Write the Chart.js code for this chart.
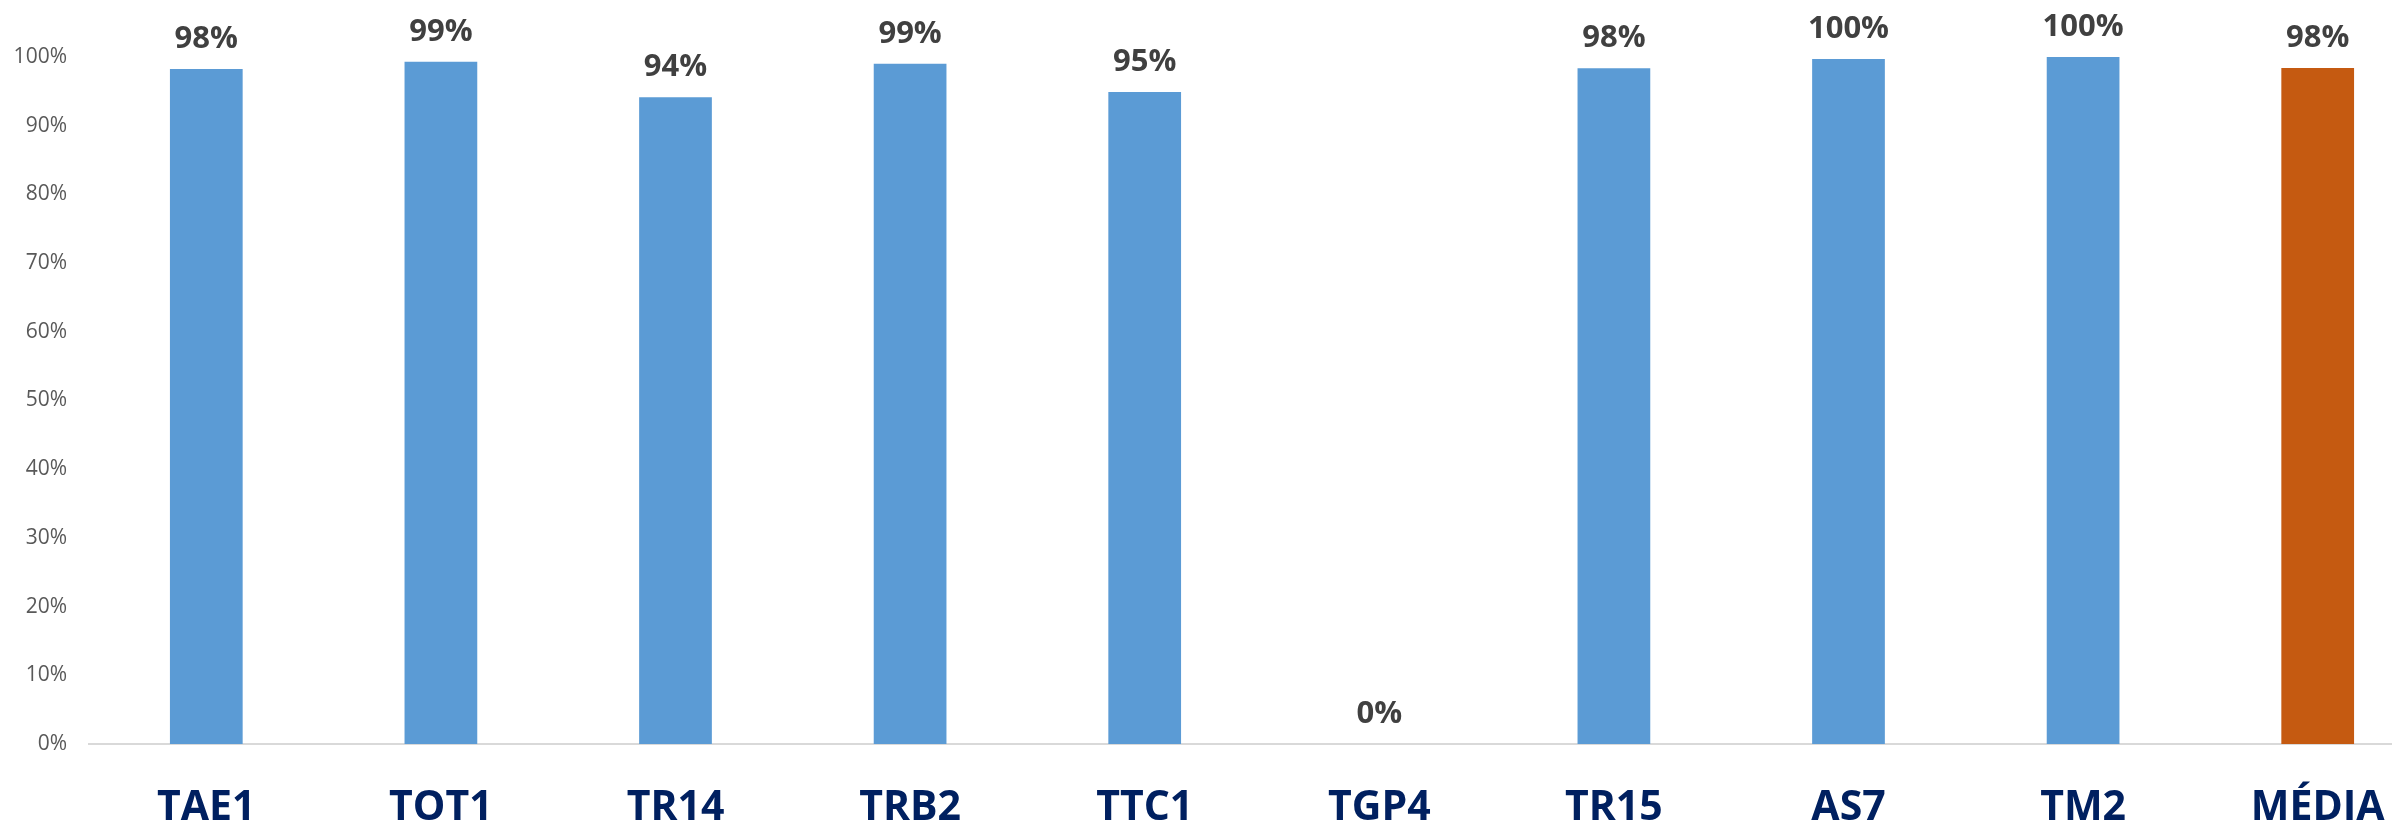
<!DOCTYPE html>
<html>
<head>
<meta charset="utf-8">
<script src="https://cdn.jsdelivr.net/npm/chart.js@4.4.1/dist/chart.umd.min.js"></script>
<style>
    html, body { margin: 0; padding: 0; background: #fff; overflow: hidden; }
    .wrap { width: 2435px; height: 826px; position: relative; }
</style>
</head>
<body>
<div class="wrap"><canvas id="chart"></canvas></div>
<script>
// data
const categories = ['TAE1', 'TOT1', 'TR14', 'TRB2', 'TTC1', 'TGP4', 'TR15', 'AS7', 'TM2', 'MÉDIA'];
const values = [0.9825, 0.993, 0.9415, 0.990, 0.949, 0, 0.9836, 0.997, 1.0, 0.984];
const yTicks = [0, 0.1, 0.2, 0.3, 0.4, 0.5, 0.6, 0.7, 0.8, 0.9, 1.0];

const blue = '#5B9BD5';
const orange = '#C55A11';

// labels above bars
const barLabels = {
    id: 'barLabels',
    afterDatasetsDraw(chart) {
        const ctx = chart.ctx;
        const meta = chart.getDatasetMeta(0);
        ctx.save();
        ctx.font = 'bold 31px "Open Sans"';
        ctx.fillStyle = '#404040';
        ctx.textAlign = 'center';
        ctx.textBaseline = 'alphabetic';
        meta.data.forEach((bar, i) => {
            const txt = Math.round(values[i] * 100) + '%';
            ctx.fillText(txt, bar.x, bar.y - 21);
        });
        ctx.restore();
    }
};

const ctx = document.getElementById('chart').getContext('2d');
const chart = new Chart(ctx, {
    type: 'bar',
    data: {
        labels: categories,
        datasets: [{
            data: values,
            backgroundColor: c => categories[c.dataIndex] === 'MÉDIA' ? orange : blue,
            barPercentage: 0.31,
            categoryPercentage: 1
        }]
    },
    options: {
        responsive: true,
        maintainAspectRatio: false,
        animation: false,
        layout: { padding: { top: 57, left: 0, right: 0, bottom: 0 } },
        plugins: {
            legend: { display: false },
            tooltip: { enabled: false }
        },
        scales: {
            x: {
                grid: { display: false, drawTicks: false },
                border: { display: true, color: '#D9D9D9', width: 2 },
                ticks: {
                    color: '#002060',
                    font: { family: '"Open Sans"', size: 41, weight: 'bold' },
                    padding: 40,
                    maxRotation: 0,
                    autoSkip: false
                },
                afterFit: s => { s.height = 82; }
            },
            y: {
                min: 0,
                max: 1,
                grid: { display: false, drawTicks: false },
                border: { display: false },
                afterBuildTicks: s => { s.ticks = yTicks.map(v => ({ value: v })); },
                ticks: {
                    color: '#595959',
                    font: { family: '"Open Sans"', size: 21 },
                    padding: 22,
                    callback: v => Math.round(v * 100) + '%'
                },
                afterFit: s => { s.width = 89; }
            }
        }
    },
    plugins: [barLabels]
});
</script>
</body>
</html>
